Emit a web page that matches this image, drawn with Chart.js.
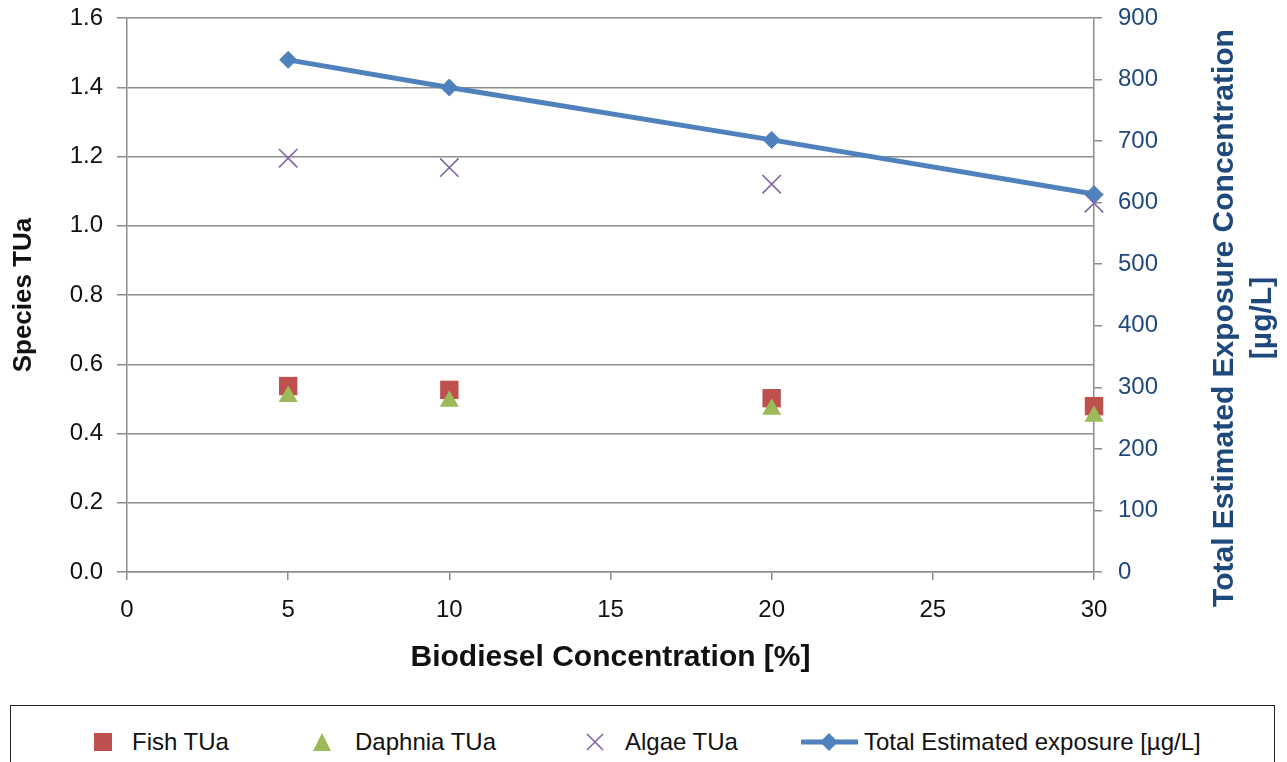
<!DOCTYPE html>
<html lang="en">

<head>
    <meta charset="UTF-8">
    <script src="https://cdn.jsdelivr.net/npm/chart.js"></script>
    <title>Biodiesel TUa</title>
    <style>
        body { margin: 0; background: #fff; font-family: 'Liberation Sans', Arial, sans-serif; }
        #caixa { position: relative; width: 1287px; height: 762px; overflow: hidden; }
        #legenda {
            position: absolute; left: 10px; top: 705px; width: 1265px; height: 80px;
            border: 1.5px solid #222; box-sizing: border-box;
        }
        .item { position: absolute; top: 22px; height: 28px; display: flex; align-items: center;
            font-size: 24px; color: #111; white-space: nowrap; }
    </style>
</head>

<body>
    <div id="caixa">
        <canvas id="grafico" width="1287" height="700"></canvas>
        <div id="legenda"></div>
    </div>
</body>

</html>

<script>
    // concentrations tested (% biodiesel)
    const concentracao = [5, 10, 20, 30];
    const fishTUa = [0.537, 0.526, 0.502, 0.479];
    const daphniaTUa = [0.507, 0.493, 0.470, 0.450];
    const algaeTUa = [1.195, 1.168, 1.120, 1.065];
    const totalExposure = [832, 787, 702, 614];

    const corGrade = '#8c8c8c';
    const azulEscuro = '#1f497d';

    function pontos(valores) {
        return concentracao.map(function (c, i) { return { x: c, y: valores[i] }; });
    }

    // right axis title reads bottom to top, so it is drawn by hand
    const tituloDireita = {
        id: 'tituloDireita',
        afterDraw(chart) {
            const s = chart.scales.y2;
            const ctx = chart.ctx;
            ctx.save();
            ctx.fillStyle = azulEscuro;
            ctx.font = 'bold 30px "Liberation Sans", Arial, sans-serif';
            ctx.textAlign = 'center';
            ctx.textBaseline = 'middle';
            const linhas = ['Total Estimated Exposure Concentration', '[µg/L]'];
            linhas.forEach(function (t, i) {
                ctx.save();
                ctx.translate(s.left + 131 + i * 38, 318);
                ctx.rotate(-Math.PI / 2);
                ctx.fillText(t, 0, 0);
                ctx.restore();
            });
            ctx.restore();
        }
    };

    // vertical axes: fixed width, no extra padding for the end labels
    function larguraFixa(w) {
        return function (s) {
            s.width = w;
            s.paddingTop = 0;
            s.paddingBottom = 0;
        };
    }

    Chart.defaults.font.family = '"Liberation Sans", Arial, sans-serif';

    var ctx = grafico.getContext('2d');
    var myChart = new Chart(ctx, {
        type: 'scatter',
        data: {
            datasets: [{
                label: 'Fish TUa',
                data: pontos(fishTUa),
                pointStyle: 'rect',
                pointRadius: 13,
                pointHoverRadius: 13,
                backgroundColor: '#c0504d',
                borderColor: '#c0504d',
                borderWidth: 0,
                yAxisID: 'y',
                clip: false,
                order: 4
            }, {
                label: 'Daphnia TUa',
                data: pontos(daphniaTUa),
                pointStyle: 'triangle',
                pointRadius: 11,
                pointHoverRadius: 11,
                backgroundColor: '#9bbb59',
                borderColor: '#9bbb59',
                borderWidth: 0,
                yAxisID: 'y',
                clip: false,
                order: 3
            }, {
                label: 'Algae TUa',
                data: pontos(algaeTUa),
                pointStyle: 'crossRot',
                pointRadius: 13,
                pointHoverRadius: 13,
                backgroundColor: '#8064a2',
                borderColor: '#8064a2',
                pointBorderWidth: 1.6,
                yAxisID: 'y',
                clip: false,
                order: 2
            }, {
                label: 'Total Estimated exposure [µg/L]',
                data: pontos(totalExposure),
                showLine: true,
                pointStyle: 'rectRot',
                pointRadius: 8.5,
                pointHoverRadius: 8.5,
                backgroundColor: '#4f81bd',
                borderColor: '#4f81bd',
                borderWidth: 5,
                pointBorderWidth: 1,
                yAxisID: 'y2',
                clip: false,
                order: 1
            }]
        },
        options: {
            responsive: false,
            animation: false,
            layout: { padding: { top: 18, left: 0, right: 0, bottom: 0 } },
            plugins: {
                legend: { display: false },
                tooltip: { enabled: false }
            },
            scales: {
                x: {
                    type: 'linear',
                    min: 0,
                    max: 30,
                    ticks: { stepSize: 5, color: '#111', font: { size: 24 }, padding: 16, maxRotation: 0 },
                    grid: { drawOnChartArea: false, tickLength: 8, color: corGrade, lineWidth: 1.5 },
                    border: { color: corGrade, width: 1.5 },
                    title: {
                        display: true,
                        text: 'Biodiesel Concentration [%]',
                        color: '#111',
                        font: { size: 30, weight: 'bold' },
                        padding: { top: 0, bottom: 24 }
                    },
                    afterFit: function (s) { s.height = 128; }
                },
                y: {
                    position: 'left',
                    min: 0,
                    max: 1.6,
                    ticks: {
                        stepSize: 0.2, color: '#111', font: { size: 24 }, padding: 14,
                        callback: function (v) { return v.toFixed(1); }
                    },
                    grid: { color: corGrade, lineWidth: 1.5, tickLength: 10 },
                    border: { color: corGrade, width: 1.5 },
                    title: {
                        display: true,
                        text: 'Species TUa',
                        color: '#111',
                        font: { size: 26, weight: 'bold' },
                        padding: { top: 8, bottom: 0 }
                    },
                    afterFit: larguraFixa(127)
                },
                y2: {
                    position: 'right',
                    min: 0,
                    max: 900,
                    ticks: { stepSize: 100, color: azulEscuro, font: { size: 24 }, padding: 16 },
                    grid: { drawOnChartArea: false, color: corGrade, lineWidth: 1.5, tickLength: 8 },
                    border: { color: corGrade, width: 1.5 },
                    afterFit: larguraFixa(193)
                }
            }
        },
        plugins: [tituloDireita]
    });

    // legend box under the chart, built from the datasets
    function icone(ds) {
        var c = ds.backgroundColor;
        if (ds.pointStyle === 'rect') {
            return '<svg width="38" height="18"><rect x="0" y="0" width="18" height="18" fill="' + c + '"/></svg>';
        }
        if (ds.pointStyle === 'triangle') {
            return '<svg width="42" height="18"><polygon points="9,0 18,18 0,18" fill="' + c + '"/></svg>';
        }
        if (ds.pointStyle === 'crossRot') {
            return '<svg width="39" height="18"><path d="M1,1 L17,17 M17,1 L1,17" stroke="' + c + '" stroke-width="1.6"/></svg>';
        }
        return '<svg width="63" height="20"><line x1="0" y1="10" x2="57" y2="10" stroke="' + c + '" stroke-width="5"/>' +
            '<polygon points="28,1 37,10 28,19 19,10" fill="' + c + '"/></svg>';
    }

    var posicoes = [83, 302, 575, 790];
    myChart.data.datasets.forEach(function (ds, i) {
        var d = document.createElement('div');
        d.className = 'item';
        d.style.left = posicoes[i] + 'px';
        d.innerHTML = icone(ds) + '<span>' + ds.label + '</span>';
        legenda.appendChild(d);
    });
</script>
